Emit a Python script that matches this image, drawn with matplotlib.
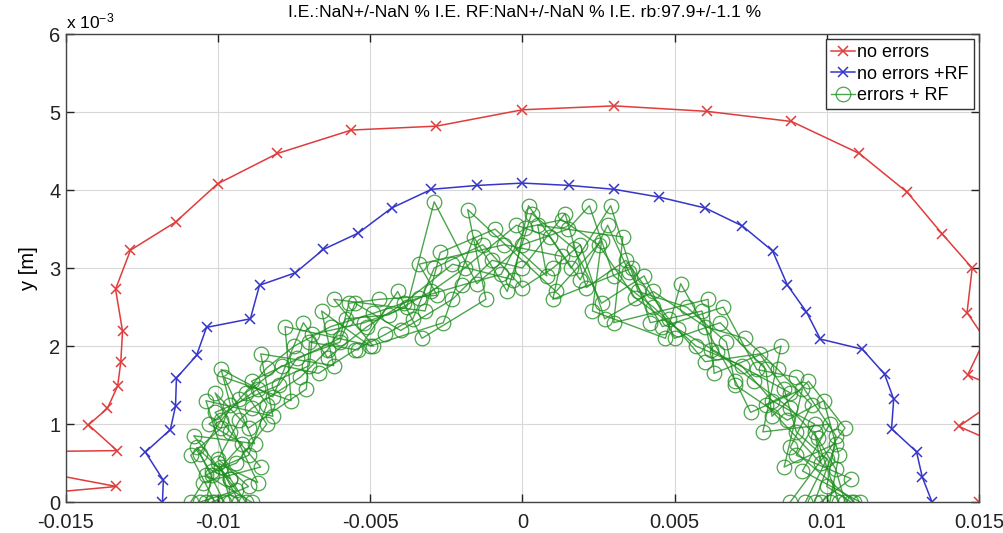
import numpy as np
import matplotlib
matplotlib.use("Agg")
import matplotlib.pyplot as plt

plt.rcParams['font.family'] = ['Liberation Sans', 'DejaVu Sans']
plt.rcParams['axes.unicode_minus'] = False
plt.rcParams['mathtext.fontset'] = 'custom'
plt.rcParams['mathtext.rm'] = 'Liberation Sans'
plt.rcParams['mathtext.it'] = 'Liberation Sans'

# all coordinates in units of 1e-3 m
red_x = [-17, -13.34, -17, -17.5, -13.32, -14.26, -13.64, -13.3, -13.2, -13.14, -13.37, -12.88,
         -11.4, -10.02, -8.05, -5.62, -2.83, 0, 3.02, 6.05, 8.84, 11.07, 12.65, 13.79, 14.78,
         14.61, 15.2, 14.63, 15.97, 14.34, 16.5, 15.0]
red_y = [0.07, 0.2, 0.47, 0.64, 0.66, 0.99, 1.2, 1.49, 1.79, 2.19, 2.73, 3.23, 3.59, 4.08, 4.47,
         4.77, 4.82, 5.03, 5.08, 5.01, 4.88, 4.47, 3.97, 3.44, 3.0, 2.43, 2.09, 1.63, 1.41, 0.97,
         0.6, 0.0]

blue_x = [-11.83, -11.8, -12.39, -11.57, -11.4, -11.37, -10.71, -10.38, -8.94, -8.64, -7.46, -6.54,
          -5.39, -4.3, -2.99, -1.48, 0, 1.54, 3.02, 4.5, 6.01, 7.23, 8.22, 8.71, 9.33, 9.79,
          11.17, 11.9, 12.2, 12.13, 12.95, 13.14, 13.46]
blue_y = [0, 0.28, 0.64, 0.93, 1.23, 1.59, 1.88, 2.24, 2.35, 2.78, 2.94, 3.24, 3.45, 3.77, 4.01,
          4.06, 4.09, 4.06, 4.01, 3.91, 3.77, 3.54, 3.22, 2.78, 2.44, 2.09, 1.96, 1.64, 1.32,
          0.94, 0.645, 0.32, 0]

green_x = [
    [-10.4, -10.2, -10.6, -9.9, -9.3, -8.4, -7.5, -6.3, -4.9, -3.4, -2.0, -0.7, 0.1, 1.3, 2.5, 3.7, 5.1, 6.4, 7.6, 8.8, 9.7, 10.3, 10.6],
    [-9.6, -9.9, -9.2, -10.3, -8.7, -7.0, -6.9, -5.2, -3.8, -2.9, -1.5, 0.0, 1.5, 2.2, 3.0, 4.3, 5.7, 7.2, 8.2, 9.6, 9.0, 10.8, 9.8],
    [-10.9, -10.5, -8.6, -9.6, -10.1, -8.0, -7.4, -6.0, -5.5, -4.0, -2.3, -1.0, 0.0, 1.4, 2.1, 3.4, 4.8, 6.0, 7.8, 8.6, 9.0, 10.0, 9.3],
    [-10.2, -9.0, -10.0, -9.3, -8.9, -7.3, -6.4, -5.8, -4.4, -3.0, -1.9, -0.2, 0.9, 1.6, 2.9, 3.8, 5.4, 6.7, 7.0, 8.7, 9.9, 10.4, 10.1],
    [-8.9, -10.4, -9.4, -8.4, -9.1, -7.9, -6.7, -5.5, -4.5, -3.6, -2.9, -1.3, 0.0, 1.0, 1.9, 2.7, 4.3, 6.0, 7.3, 8.4, 9.5, 8.8, 10.9],
    [-9.8, -10.7, -9.6, -10.4, -8.2, -8.6, -6.2, -6.6, -5.0, -2.6, -1.6, -0.5, 0.3, 1.7, 2.6, 4.0, 5.0, 6.5, 8.0, 8.2, 9.4, 10.6, 8.8],
    [-10.6, -9.4, -10.8, -8.8, -9.8, -7.6, -7.8, -4.9, -6.2, -3.2, -2.7, -0.9, 0.8, 0.5, 3.3, 3.0, 6.1, 6.3, 8.5, 7.9, 10.1, 9.2, 11.1],
    [-9.3, -10.0, -8.7, -10.1, -9.0, -7.1, -7.0, -5.4, -4.1, -3.3, -1.2, -1.8, 1.1, 2.6, 2.3, 4.7, 5.2, 7.0, 7.5, 9.2, 8.6, 10.3, 9.6],
    [-10.1, -10.9, -9.9, -9.6, -9.9, -8.2, -7.2, -6.4, -5.1, -3.9, -2.3, -0.3, 0.2, 1.9, 2.8, 3.5, 4.6, 6.6, 7.7, 9.0, 10.3, 10.0, 10.8],
    [-9.1, -9.6, -10.2, -9.0, -8.4, -8.9, -6.0, -5.7, -4.7, -2.8, -3.4, -0.6, 1.3, 1.0, 3.6, 4.2, 5.9, 6.2, 8.8, 8.0, 9.8, 9.6, 10.4],
]
green_y = [
    [0.0, 0.35, 0.62, 1.05, 1.32, 1.72, 2.0, 2.25, 2.42, 2.62, 2.78, 2.92, 3.52, 3.62, 3.3, 2.62, 2.22, 1.92, 1.55, 1.2, 0.82, 0.42, 0.0],
    [0.0, 0.45, 0.75, 1.0, 1.45, 1.75, 2.15, 2.3, 2.5, 3.85, 2.8, 3.3, 3.5, 3.8, 2.9, 2.5, 2.0, 1.75, 1.3, 1.0, 0.6, 0.3, 0.0],
    [0.0, 0.25, 0.45, 0.9, 1.15, 1.5, 1.85, 2.05, 2.55, 2.2, 2.6, 3.1, 3.0, 3.7, 2.75, 3.1, 2.35, 1.8, 1.9, 1.45, 0.9, 0.55, 0.0],
    [0.0, 0.2, 0.55, 1.05, 1.2, 1.6, 1.95, 2.35, 2.4, 2.7, 3.0, 3.55, 3.4, 3.0, 3.8, 2.7, 2.5, 2.05, 1.5, 1.05, 1.3, 0.6, 0.0],
    [0.0, 0.35, 0.5, 1.0, 1.4, 1.75, 1.65, 1.95, 2.15, 2.35, 3.0, 3.3, 2.75, 3.0, 3.3, 2.35, 2.7, 2.25, 2.1, 1.7, 1.25, 0.7, 0.0],
    [0.0, 0.7, 0.3, 1.3, 1.1, 1.9, 1.75, 2.45, 2.0, 2.3, 3.4, 2.7, 3.7, 3.25, 2.55, 2.9, 2.1, 2.3, 1.7, 1.1, 1.55, 0.95, 0.0],
    [0.0, 0.15, 0.85, 0.75, 1.6, 1.3, 2.25, 2.0, 2.6, 2.45, 3.2, 3.5, 2.9, 3.55, 3.4, 2.3, 2.6, 1.65, 2.0, 0.9, 1.0, 0.4, 0.0],
    [0.0, 0.5, 0.25, 1.4, 0.95, 1.45, 2.05, 1.95, 2.7, 2.1, 2.6, 3.75, 2.7, 3.35, 2.45, 2.1, 2.8, 1.55, 1.15, 1.45, 0.45, 0.75, 0.0],
    [0.0, 0.6, 0.95, 1.25, 1.7, 1.35, 2.3, 1.85, 2.25, 2.55, 3.05, 2.85, 3.8, 2.85, 3.55, 2.95, 2.25, 2.5, 1.7, 1.6, 0.85, 0.2, 0.0],
    [0.0, 0.3, 0.4, 0.6, 1.25, 1.55, 2.1, 2.55, 2.6, 2.65, 3.05, 3.3, 3.15, 2.6, 3.0, 2.3, 2.45, 1.95, 1.4, 1.25, 0.5, 0.9, 0.0],
]

title = "I.E.:NaN+/-NaN % I.E. RF:NaN+/-NaN % I.E. rb:97.9+/-1.1 %"

fig = plt.figure(figsize=(10.04, 5.33), dpi=100)
ax = fig.add_axes([0.0657, 0.058, 0.9093, 0.878])

s = 1e-3
ax.plot(np.array(red_x) * s, np.array(red_y) * s, color='#e03c3c', lw=1.1, marker='x',
        ms=7, mew=1.1, label='no errors')
ax.plot(np.array(blue_x) * s, np.array(blue_y) * s, color='#3535c8', lw=1.1, marker='x',
        ms=7, mew=1.1, label='no errors +RF')
for i in range(len(green_x)):
    ax.plot(np.array(green_x[i]) * s, np.array(green_y[i]) * s, color='#1f8f1f', lw=1.0,
            alpha=0.8, marker='o', ms=10.5, mfc='none', mew=0.9,
            label='errors + RF' if i == 0 else None)

ax.set_xlim(-0.015, 0.015)
ax.set_ylim(0, 0.006)
xt = [-0.015, -0.01, -0.005, 0, 0.005, 0.01, 0.015]
ax.set_xticks(xt)
ax.set_xticklabels(['-0.015', '-0.01', '-0.005', '0', '0.005', '0.01', '0.015'])
ax.set_yticks([i * 1e-3 for i in range(7)])
ax.set_yticklabels([str(i) for i in range(7)])
ax.tick_params(direction='in', length=6, width=1, top=True, right=True, labelsize=14.5,
               colors='#222222')
ax.tick_params(axis='x', pad=7.5)
ax.tick_params(axis='y', pad=4)
ax.grid(True, color='#d8d8d8', lw=0.8)
ax.set_axisbelow(True)
for sp in ax.spines.values():
    sp.set_color('#444444')
    sp.set_linewidth(1.0)

ax.set_ylabel('y [m]', fontsize=14.5, labelpad=8)
ax.text(0.0, 1.005, r'x 10$^{-3}$', transform=ax.transAxes, fontsize=12.5, va='bottom',
        ha='left')
fig.text(0.522, 0.976, title, ha='center', va='center', fontsize=12.6)

ax.legend(loc='upper right', fontsize=13, handlelength=1.3, handletextpad=0.15,
          labelspacing=0.25, borderpad=0.3, borderaxespad=0.25, fancybox=False,
          edgecolor='#333333', framealpha=1)

fig.savefig('out.png', dpi=100)
